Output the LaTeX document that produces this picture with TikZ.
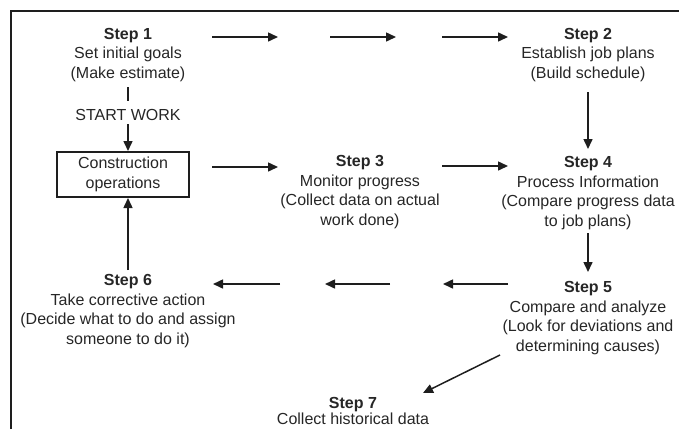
\documentclass[tikz,border=0pt]{standalone}
\usepackage{fontspec}
\setmainfont{Liberation Sans}
\usetikzlibrary{arrows.meta}
\definecolor{ink}{HTML}{1E1E1E}
\definecolor{txt}{HTML}{262626}
\begin{document}
\begin{tikzpicture}[x=1pt, y=-1pt,
  stepnode/.style={align=center, inner sep=2pt, text=txt,
    font=\fontsize{16}{19.5}\selectfont},
  opbox/.style={draw=ink, line width=1.5pt, align=center, inner sep=0pt,
    minimum width=132pt, minimum height=45pt, text=txt,
    font=\fontsize{16}{20}\selectfont},
  flow/.style={draw=ink, line width=1.5pt, -{Triangle[length=10pt,width=9pt]}},
  plain/.style={draw=ink, line width=1.5pt}]
\useasboundingbox (0,0) rectangle (679,429);

% outer frame (open at the bottom and right)
\draw[ink, line width=2pt] (11,429) -- (11,11) -- (679,11);

% steps
\node[stepnode] (s1) at (128,55) {\textbf{Step 1}\\Set initial goals\\(Make estimate)};
\node[stepnode] (start) at (128,115) {START WORK};
\node[opbox] (ops) at (123,174.5) {Construction\\operations};
\node[stepnode] (s2) at (588,55) {\textbf{Step 2}\\Establish job plans\\(Build schedule)};
\node[stepnode] (s3) at (360,192) {\textbf{Step 3}\\Monitor progress\\(Collect data on actual\\work done)};
\node[stepnode] (s4) at (588,193) {\textbf{Step 4}\\Process Information\\(Compare progress data\\to job plans)};
\node[stepnode] (s5) at (588,318) {\textbf{Step 5}\\Compare and analyze\\(Look for deviations and\\determining causes)};
\node[stepnode] (s6) at (128,311) {\textbf{Step 6}\\Take corrective action\\(Decide what to do and assign\\someone to do it)};
\node[stepnode, font=\fontsize{16}{16.5}\selectfont] (s7) at (353,411) {\textbf{Step 7}\\Collect historical data};

% arrow end points
\coordinate (a1) at (212,37);  \coordinate (b1) at (278,37);
\coordinate (a2) at (330,37);  \coordinate (b2) at (396,37);
\coordinate (a3) at (442,37);  \coordinate (b3) at (508,37);
\coordinate (c1) at (212,167); \coordinate (d1) at (278,167);
\coordinate (c2) at (442,166); \coordinate (d2) at (508,166);
\coordinate (e1) at (508,284); \coordinate (f1) at (443,284);
\coordinate (e2) at (390,284); \coordinate (f2) at (325,284);
\coordinate (e3) at (280,284); \coordinate (f3) at (213,284);
\coordinate (g1) at (128,87);  \coordinate (h1) at (128,101);
\coordinate (g2) at (128,124); \coordinate (h2) at (128,151);
\coordinate (g3) at (588,92);  \coordinate (h3) at (588,149);
\coordinate (g4) at (588,233); \coordinate (h4) at (588,272);
\coordinate (g5) at (128,270); \coordinate (h5) at (128,198);
\coordinate (g6) at (500,355); \coordinate (h6) at (423,393);

% connectors
\draw[flow] (a1) -- (b1);
\draw[flow] (a2) -- (b2);
\draw[flow] (a3) -- (b3);
\draw[flow] (c1) -- (d1);
\draw[flow] (c2) -- (d2);
\draw[flow] (e1) -- (f1);
\draw[flow] (e2) -- (f2);
\draw[flow] (e3) -- (f3);
\draw[plain] (g1) -- (h1);
\draw[flow] (g2) -- (h2);
\draw[flow] (g3) -- (h3);
\draw[flow] (g4) -- (h4);
\draw[flow] (g5) -- (h5);
\draw[flow] (g6) -- (h6);
\end{tikzpicture}
\end{document}
